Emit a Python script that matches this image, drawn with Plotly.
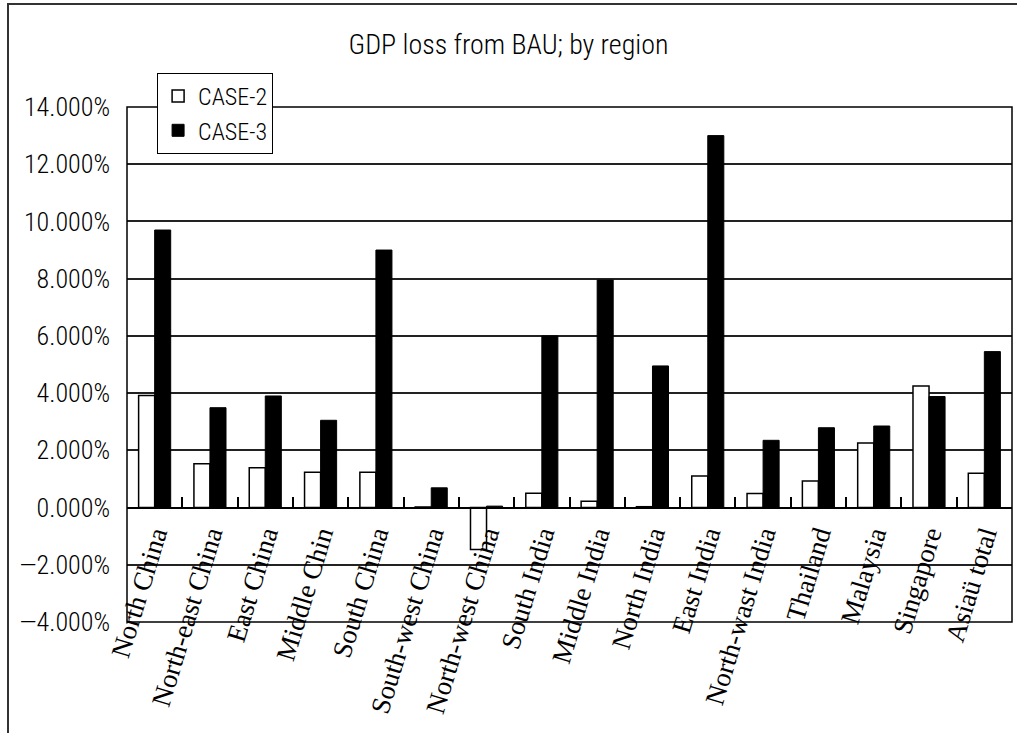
import plotly.graph_objects as go

# Regions and GDP loss from BAU (percent)
regions = ["North China", "North-east China", "East China", "Middle Chin",
           "South China", "South-west China", "North-west China", "South India",
           "Middle India", "North India", "East India", "North-wast India",
           "Thailand", "Malaysia", "Singapore", "Asiaü total"]
case2 = [3.92, 1.53, 1.39, 1.23, 1.23, 0.02, -1.47, 0.50,
         0.22, 0.03, 1.10, 0.49, 0.93, 2.26, 4.25, 1.20]
case3 = [9.70, 3.49, 3.90, 3.05, 9.00, 0.69, 0.05, 6.00,
         7.95, 4.95, 13.00, 2.35, 2.79, 2.85, 3.88, 5.45]
y_ticks = [-4, -2, 0, 2, 4, 6, 8, 10, 12, 14]
y_ticktext = [f"{v:.3f}%".replace("-", "\u2014") for v in y_ticks]

sans = "Roboto Condensed, PT Sans Narrow, Archivo Narrow, sans-serif"
serif = "Liberation Serif, Times New Roman, serif"

fig = go.Figure()
fig.add_trace(go.Bar(x=regions, y=case2, name="CASE-2",
                     marker=dict(color="white", line=dict(color="black", width=1.5))))
fig.add_trace(go.Bar(x=regions, y=case3, name="CASE-3",
                     marker=dict(color="black", line=dict(color="black", width=1))))

ymin, ymax = y_ticks[0], y_ticks[-1]

fig.update_layout(
    width=1017, height=733,
    margin=dict(l=127, r=5, t=107, b=111),
    paper_bgcolor="white", plot_bgcolor="white",
    barmode="group", bargap=0.42, bargroupgap=0.0,
    title=dict(text="GDP loss from BAU; by region", x=0.5, xref="container",
               xanchor="center", y=0.94, yanchor="middle",
               font=dict(family=sans, size=28, color="black", weight=300)),
    legend=dict(x=0.034, y=1.066, xanchor="left", yanchor="top",
                bgcolor="white", bordercolor="black", borderwidth=1,
                font=dict(family=sans, size=24, color="black", weight=300),
                itemwidth=30, tracegroupgap=0),
    showlegend=True,
)

fig.update_yaxes(
    range=[ymin, ymax], tickvals=y_ticks, ticktext=y_ticktext,
    showgrid=True, gridcolor="#222222", gridwidth=1.5,
    zeroline=True, zerolinecolor="black", zerolinewidth=1.5,
    showline=False, ticks="", ticklabelstandoff=16, automargin=False,
    tickfont=dict(family=sans, size=26, color="black", weight=300),
)

fig.update_xaxes(
    anchor="free", position=(0 - ymin) / (ymax - ymin), automargin=False,
    showline=True, linecolor="black", linewidth=1.5,
    ticks="inside", tickson="boundaries", ticklen=10, tickwidth=1.5, tickcolor="black",
    tickangle=-73, showgrid=False,
    tickfont=dict(family=serif, size=27, color="black"),
)

# plot-area border and outer chart frame
fig.add_shape(type="rect", xref="paper", yref="paper", x0=0, x1=1, y0=0, y1=1,
              line=dict(color="black", width=1.5), layer="above")
fig.add_shape(type="rect", xref="paper", yref="paper",
              x0=(8 - 127) / 885, x1=1.2, y0=-0.5, y1=(622 - 4) / 515,
              line=dict(color="#333333", width=2), layer="above")

fig.write_html("out.html")
